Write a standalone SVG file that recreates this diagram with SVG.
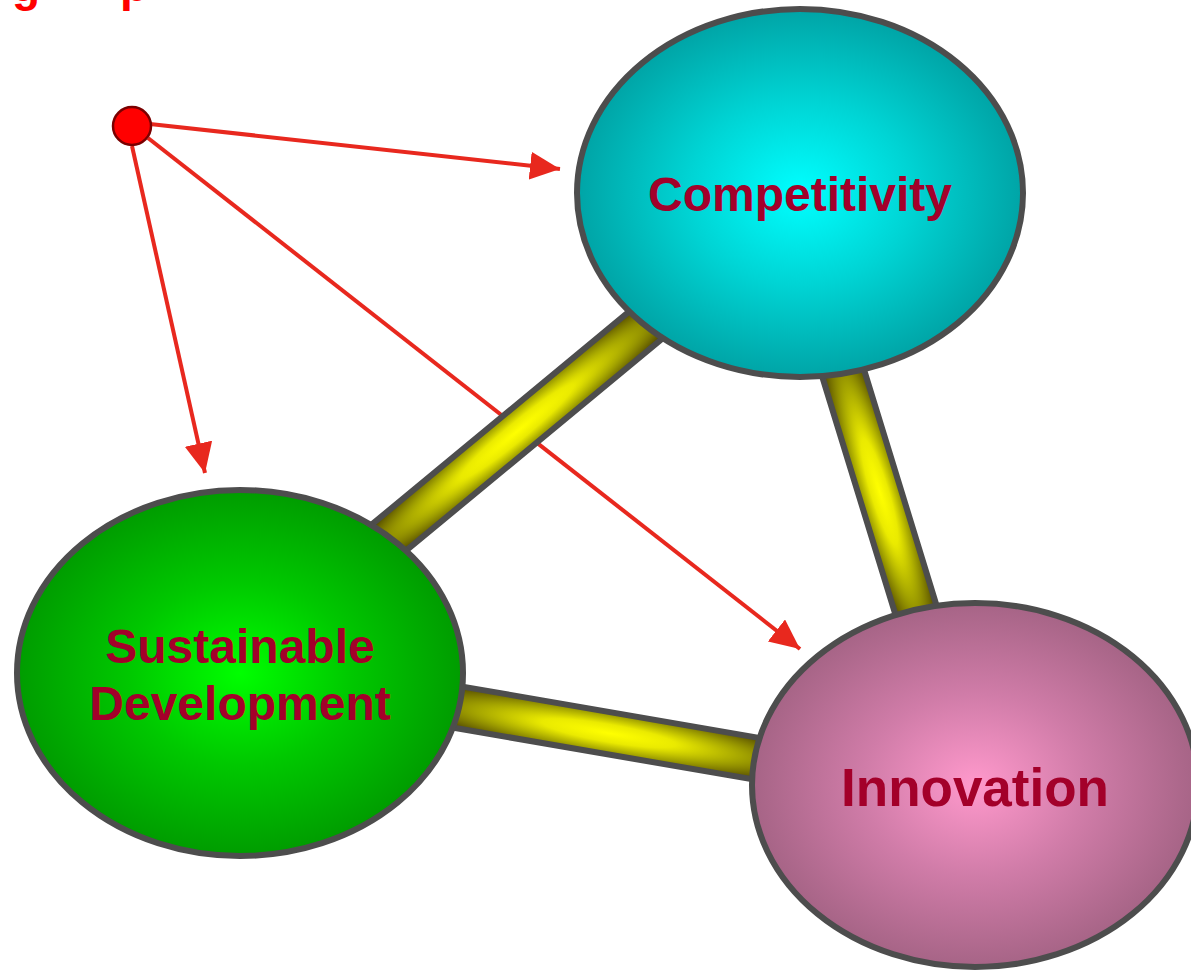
<svg xmlns="http://www.w3.org/2000/svg" width="1191" height="972" viewBox="0 0 1191 972">
<style>
.node{stroke:#4d4d4d;stroke-width:6}
.bar{stroke:#4d4d4d;stroke-width:6;fill:url(#barGrad)}
.arrow{stroke:#e8281e;stroke-width:4;fill:none;marker-end:url(#head)}
.lbl{font-family:"Liberation Sans",Arial,sans-serif;font-weight:bold;fill:#a3002a;text-anchor:middle}
.title{font-family:"Liberation Sans",Arial,sans-serif;font-weight:bold;fill:#ff0000;font-size:46px}
</style>
<defs>
<radialGradient id="gComp" cx="0.5" cy="0.5" r="0.5">
<stop offset="0" stop-color="#00ffff"/>
<stop offset="0.5" stop-color="#00d4d4"/>
<stop offset="1" stop-color="#00a4a6"/>
</radialGradient>
<radialGradient id="gSD" cx="0.5" cy="0.5" r="0.5">
<stop offset="0" stop-color="#00ff00"/>
<stop offset="0.5" stop-color="#00c800"/>
<stop offset="1" stop-color="#009c00"/>
</radialGradient>
<radialGradient id="gInn" cx="0.5" cy="0.5" r="0.5">
<stop offset="0" stop-color="#ff99cc"/>
<stop offset="0.5" stop-color="#d07ca8"/>
<stop offset="1" stop-color="#a66486"/>
</radialGradient>
<radialGradient id="barGrad" cx="0.5" cy="0.5" r="0.7">
<stop offset="0" stop-color="#ffff00"/>
<stop offset="0.3" stop-color="#eaea00"/>
<stop offset="0.6" stop-color="#a4a400"/>
<stop offset="0.85" stop-color="#6c6600"/>
<stop offset="1" stop-color="#4a4200"/>
</radialGradient>
<marker id="head" viewBox="0 0 30 28" refX="30" refY="14" markerWidth="30" markerHeight="28" markerUnits="userSpaceOnUse" orient="auto">
<path d="M0,0 L30,14 L0,28 z" fill="#e8281e"/>
</marker>
</defs>
<rect width="1191" height="972" fill="#ffffff"/>
<g id="title">
<text class="title" x="12" y="1">g</text>
<text class="title" x="120" y="1">p</text>
</g>
<g id="connectors">
<line class="arrow" x1="150" y1="124" x2="560" y2="169"/>
<line class="arrow" x1="132" y1="146" x2="205" y2="473"/>
<line class="arrow" x1="148" y1="138" x2="800" y2="649"/>
<rect class="bar" x="-10" y="-21" width="345" height="42" transform="translate(392,535) rotate(-39.6)"/>
<rect class="bar" x="-10" y="-21" width="262" height="42" transform="translate(844,376) rotate(72.9)"/>
<rect class="bar" x="-10" y="-21" width="322" height="42" transform="translate(460,707.5) rotate(9.8)"/>
</g>
<g id="source">
<circle cx="132" cy="126" r="19" fill="#ff0000" stroke="#7a0000" stroke-width="2.5"/>
</g>
<g id="competitivity">
<ellipse class="node" cx="800" cy="193" rx="223" ry="184" fill="url(#gComp)"/>
<text class="lbl" x="800" y="211" font-size="48">Competitivity</text>
</g>
<g id="sustainable">
<ellipse class="node" cx="240" cy="673" rx="223" ry="183" fill="url(#gSD)"/>
<text class="lbl" x="240" y="663" font-size="48">Sustainable</text>
<text class="lbl" x="240" y="720" font-size="48">Development</text>
</g>
<g id="innovation">
<ellipse class="node" cx="975" cy="785" rx="223" ry="182" fill="url(#gInn)"/>
<text class="lbl" x="975" y="806" font-size="53">Innovation</text>
</g>
</svg>
